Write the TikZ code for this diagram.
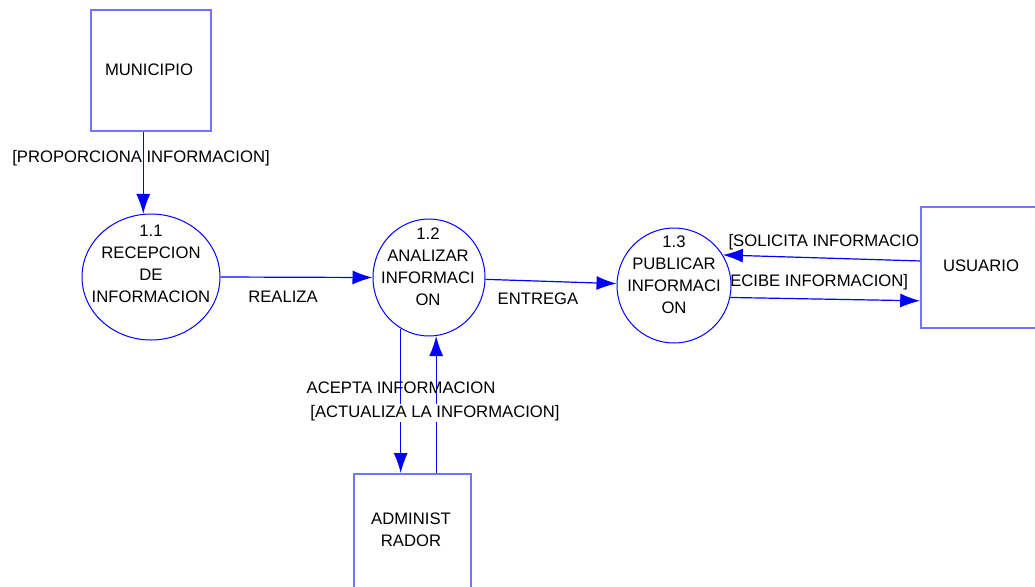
\documentclass[tikz,border=0pt]{standalone}
\usepackage{fontspec}
\setmainfont{Liberation Sans}
\usetikzlibrary{arrows.meta,shapes.geometric}

\begin{document}
\begin{tikzpicture}[x=0.75pt,y=-0.75pt,
  every node/.style={font=\fontsize{12.5}{16.5}\selectfont,align=center,inner sep=1pt},
  entity/.style={rectangle,draw=blue!55,line width=1.2pt,fill=white,minimum width=90pt,minimum height=91pt,inner sep=0pt},
  proc/.style={draw=blue,line width=0.75pt,fill=white,ellipse,inner sep=0pt},
  flow/.style={blue,line width=0.9pt,-{Latex[length=15pt,width=10.5pt]}}]
\path[use as bounding box,fill=white] (0,0) rectangle (1035,586);
\node[anchor=west] (lsol) at (727,242) {[SOLICITA INFORMACION]};
\node[anchor=west] (lrec) at (712,282) {[RECIBE INFORMACION]};
\node[entity] (mun) at (151,70.5) {};
\node[entity] (usu) at (981,267.5) {};
\node[entity,minimum width=87.75pt] (adm) at (412.5,534.5) {};
\node[proc,minimum width=103.5pt,minimum height=94.5pt] (p11) at (151,277) {};
\node[proc,minimum width=84pt,minimum height=87.75pt] (p12) at (429,277.5) {};
\node[proc,minimum width=85.5pt,minimum height=86.25pt] (p13) at (674,285.5) {};
\node (munt) at (149,70) {MUNICIPIO};
\node (usut) at (981,266) {USUARIO};
\node (admt) at (411,530) {ADMINIST\\RADOR};
\node (p11t) at (151,264) {1.1\\RECEPCION\\DE\\INFORMACION};
\node (p12t) at (428,266.5) {1.2\\ANALIZAR\\INFORMACI\\ON};
\node (p13t) at (674,275) {1.3\\PUBLICAR\\INFORMACI\\ON};
\draw[flow] (p11.97 |- mun.south) -- (p11.97);
\draw[flow] (p11.east) -- (p12.west);
\draw[flow] (p12) -- (p13);
\draw[flow] ([yshift=4.9pt]usu.west) -- (p13.32);
\draw[flow] (p13.-12) -- ([yshift=-25pt]usu.west);
\draw[flow] (p12.241) -- (p12.241 |- adm.north);
\draw[flow] (p12.277 |- adm.north) -- (p12.277);
\node (lpro) at (141,158) {[PROPORCIONA INFORMACION]};
\node (lrea) at (283,297) {REALIZA};
\node (lent) at (538,299) {ENTREGA};
\node (lace) at (401,388) {ACEPTA INFORMACION};
\node[fill=white] (lact) at (435,413) {[ACTUALIZA LA INFORMACION]};
\end{tikzpicture}
\end{document}
